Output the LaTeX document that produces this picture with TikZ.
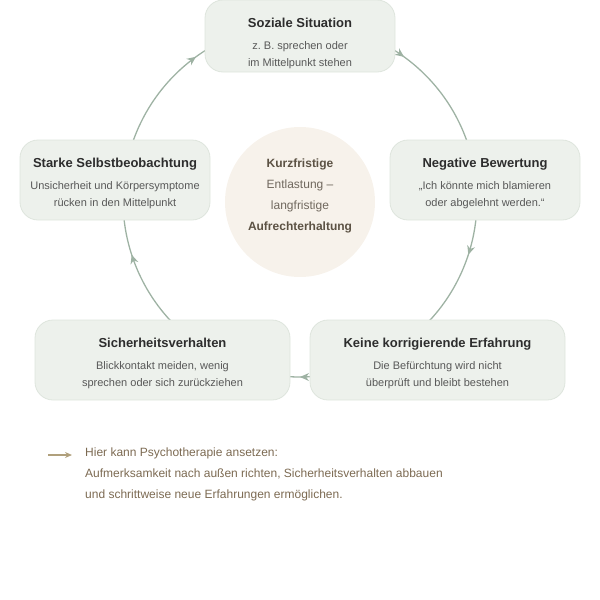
\documentclass[tikz,border=0pt]{standalone}
\usepackage{fontspec}
\setmainfont{Liberation Sans}
\usetikzlibrary{arrows.meta,decorations.markings,positioning}
\definecolor{boxfill}{RGB}{237,241,236}
\definecolor{boxline}{RGB}{222,229,221}
\definecolor{arcgreen}{RGB}{158,178,163}
\definecolor{titletext}{RGB}{45,45,45}
\definecolor{notetext}{RGB}{88,88,88}
\definecolor{hubfill}{RGB}{247,242,235}
\definecolor{hubbold}{RGB}{92,82,68}
\definecolor{hubtext}{RGB}{112,104,94}
\definecolor{keytan}{RGB}{176,160,124}
\definecolor{keytext}{RGB}{124,106,82}
\begin{document}
\begin{tikzpicture}[x=1pt,y=1pt,
  box/.style={draw=boxline,fill=boxfill,line width=0.8pt,rounded corners=18pt,
    minimum width=190pt,minimum height=80pt,inner sep=0pt},
  boxtitle/.style={font=\fontsize{13}{15}\selectfont\bfseries,text=titletext,
    anchor=base,inner sep=0pt},
  boxnote/.style={font=\fontsize{11}{16.8}\selectfont,text=notetext,align=center,
    anchor=north,inner sep=0pt},
  cyclearc/.style={draw=arcgreen,line width=1.3pt,postaction={decorate},
    decoration={markings,mark=at position 0.5 with {\arrow[arcgreen]{Stealth[length=9pt,width=8pt]}}}}]
\useasboundingbox (0,0) rectangle (600,-600);
\coordinate (mid) at (300,-200);
\foreach \a in {90,18,-54,-126,-198}
  \draw[cyclearc] ([shift={(\a:177)}]mid) arc[start angle=\a,delta angle=-72,radius=177];
\node[box,minimum height=72pt] (soz) at (300,-36) {};
\node[box] (neg) at (485,-180) {};
\node[box] (sta) at (115,-180) {};
\node[box,minimum width=255pt] (kei) at (437.5,-360) {};
\node[box,minimum width=255pt] (sic) at (162.5,-360) {};
\node[boxtitle] (soz-t) at ([yshift=-28pt]soz.north) {Soziale Situation};
\node[boxnote] (soz-n) at ([yshift=-41.5pt]soz.north) {z.\ B. sprechen oder\\im Mittelpunkt stehen};
\node[boxtitle] (neg-t) at ([yshift=-28pt]neg.north) {Negative Bewertung};
\node[boxnote] (neg-n) at ([yshift=-41.5pt]neg.north) {„Ich könnte mich blamieren\\oder abgelehnt werden.“};
\node[boxtitle] (sta-t) at ([yshift=-28pt]sta.north) {Starke Selbstbeobachtung};
\node[boxnote] (sta-n) at ([yshift=-41.5pt]sta.north) {Unsicherheit und Körpersymptome\\rücken in den Mittelpunkt};
\node[boxtitle] (kei-t) at ([yshift=-28pt]kei.north) {Keine korrigierende Erfahrung};
\node[boxnote] (kei-n) at ([yshift=-41.5pt]kei.north) {Die Befürchtung wird nicht\\überprüft und bleibt bestehen};
\node[boxtitle] (sic-t) at ([yshift=-28pt]sic.north) {Sicherheitsverhalten};
\node[boxnote] (sic-n) at ([yshift=-41.5pt]sic.north) {Blickkontakt meiden, wenig\\sprechen oder sich zurückziehen};
\node[circle,fill=hubfill,minimum size=150pt,inner sep=0pt] (hub) at (300,-202) {};
\node[font=\fontsize{12}{21}\selectfont,text=hubtext,align=center,inner sep=0pt] (hub-t) at (300,-196)
  {\textcolor{hubbold}{\bfseries Kurzfristige}\\Entlastung –\\langfristige\\\textcolor{hubbold}{\bfseries Aufrechterhaltung}};
\coordinate (key-a) at (48,-455);
\coordinate (key-b) at (72,-455);
\draw[keytan,line width=1.4pt,-{Stealth[length=7pt,width=6pt]}] (key-a) -- (key-b);
\node[font=\fontsize{12}{21}\selectfont,text=keytext,align=left,anchor=north west,inner sep=0pt] (key-t) at (85,-447.4)
  {Hier kann Psychotherapie ansetzen:\\Aufmerksamkeit nach außen richten, Sicherheitsverhalten abbauen\\und schrittweise neue Erfahrungen ermöglichen.};
\end{tikzpicture}
\end{document}
